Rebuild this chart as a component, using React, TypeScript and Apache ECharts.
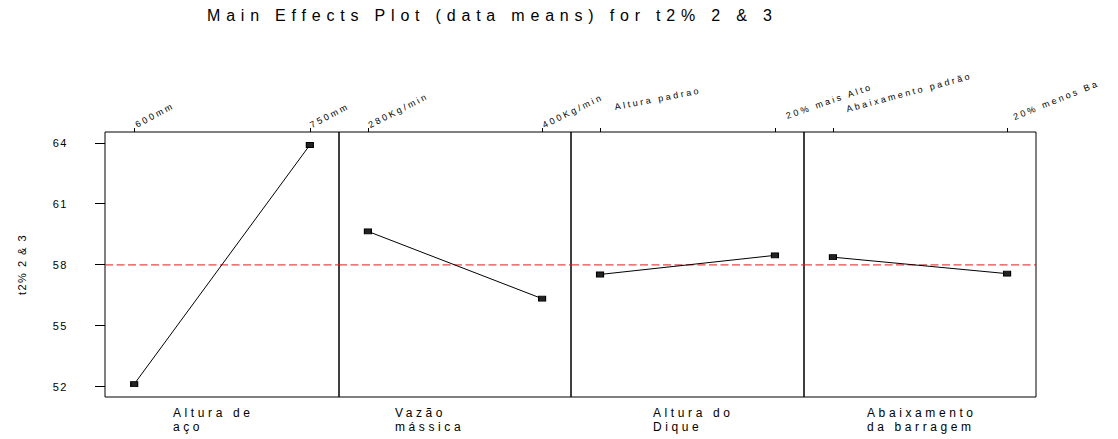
import React, { useEffect, useRef } from "react";
import * as echarts from "echarts";

// ---------- data ----------
const titleText = "Main Effects Plot (data means) for t2% 2 & 3";
const yAxisName = "t2% 2 & 3";
const factorNames = ["Altura de\naço", "Vazão\nmássica", "Altura do\nDique", "Abaixamento\nda barragem"];
const levelLabels = [
  ["600mm", "750mm"],
  ["280Kg/min", "400Kg/min"],
  ["Altura padrao", "20% mais Alto"],
  ["Abaixamento padrão", "20% menos Ba"],
];
const meanValues = [
  [52.12, 63.89],
  [59.64, 56.33],
  [57.52, 58.46],
  [58.37, 57.56],
];
const grandMean = 57.99;
const yTicks = [52, 55, 58, 61, 64];
const levelPositions = [0, 1];

// ---------- layout ----------
const panelLefts = [105, 339, 571, 804];
const panelWidths = [234, 232, 233, 232];
const gridTop = 132;
const gridHeight = 265;
const X_MIN = -0.166;
const X_MAX = 1.166;
// per label: [rotate, margin, paddingLeft]
const labelLayout = [
  [[28, 6, 2], [28, 6, 1]],
  [[27, 6, 1], [26, 6, 1]],
  [[11, 22, 15], [19, 12, 12]],
  [[15, 19, 14], [22, 12, 7]],
];
const bottomLabelLefts = [173, 395, 653, 867];
const FONT = "'Liberation Sans', Arial, sans-serif";

export default function App() {
  const ref = useRef<HTMLDivElement>(null);

  useEffect(() => {
    const el = ref.current;
    if (!el) return;
    const chart = echarts.init(el, null, { renderer: "svg" });

    const grids = panelLefts.map((l, i) => ({
      left: l,
      top: gridTop,
      width: panelWidths[i],
      height: gridHeight,
      show: true,
      borderColor: "#000",
      borderWidth: 1,
      backgroundColor: "transparent",
    }));

    const xAxes: any[] = [];
    panelLefts.forEach((_, i) => {
      levelPositions.forEach((pos, k) => {
        const [rot, margin, pad] = labelLayout[i][k];
        xAxes.push({
          type: "value",
          gridIndex: i,
          position: "top",
          min: X_MIN,
          max: X_MAX,
          axisLine: { show: false, onZero: false },
          splitLine: { show: false },
          axisTick: { show: true, length: 4, customValues: [pos], lineStyle: { color: "#000" } },
          axisLabel: {
            show: true,
            customValues: [pos],
            rotate: -rot,
            align: "left",
            verticalAlign: "middle",
            margin,
            padding: [0, 0, 0, pad],
            fontSize: 9,
            fontFamily: FONT,
            color: "#000",
            formatter: () => levelLabels[i][k],
          },
        });
      });
    });

    const yAxes = panelLefts.map((_, i) => ({
      type: "value",
      gridIndex: i,
      position: "left",
      min: 51.49,
      max: 64.53,
      show: i === 0,
      name: i === 0 ? yAxisName : "",
      nameLocation: "middle",
      nameGap: 78,
      nameRotate: 90,
      nameTextStyle: { fontSize: 11, fontFamily: FONT, color: "#000" },
      axisLine: { show: false, onZero: false },
      splitLine: { show: false },
      axisTick: { show: i === 0, length: 10, customValues: yTicks, lineStyle: { color: "#000" } },
      axisLabel: {
        show: i === 0,
        customValues: yTicks,
        margin: 37,
        fontSize: 11,
        fontFamily: FONT,
        color: "#000",
      },
    }));

    const meanSeries = panelLefts.map((_, i) => ({
      type: "line",
      xAxisIndex: i * 2,
      yAxisIndex: i,
      data: [
        [X_MIN, grandMean],
        [X_MAX, grandMean],
      ],
      symbol: "none",
      silent: true,
      z: 1,
      lineStyle: { color: "#ff1010", type: [8, 3.5], width: 1 },
    }));

    const effectSeries = meanValues.map((vals, i) => ({
      type: "line",
      xAxisIndex: i * 2,
      yAxisIndex: i,
      data: vals.map((v, k) => [levelPositions[k], v]),
      symbol: "rect",
      symbolSize: [7, 5],
      silent: true,
      z: 3,
      itemStyle: { color: "#222", borderColor: "#000", borderWidth: 1 },
      lineStyle: { color: "#000", width: 1 },
    }));

    chart.setOption({
      animation: false,
      backgroundColor: "#fff",
      title: {
        text: titleText,
        left: 202,
        top: 2,
        textStyle: { fontSize: 16, fontWeight: "normal", fontFamily: FONT, color: "#000" },
      },
      grid: grids,
      xAxis: xAxes,
      yAxis: yAxes,
      series: [...meanSeries, ...effectSeries],
      graphic: factorNames.map((name, i) => ({
        type: "text",
        left: bottomLabelLefts[i],
        top: 406,
        silent: true,
        style: { text: name, fontSize: 12, fontFamily: FONT, fill: "#000", lineHeight: 14 },
      })),
    });

    const applySpacing = () => {
      el.querySelectorAll("text").forEach((t) => {
        const fs = parseFloat(getComputedStyle(t).fontSize);
        let ls = 2.6;
        if (fs >= 15) ls = 5.8;
        else if (fs >= 11.5) ls = 3.6;
        else if (fs >= 10.5) ls = 1.5;
        t.setAttribute("letter-spacing", String(ls));
      });
    };
    applySpacing();
    chart.on("finished", applySpacing);

    return () => {
      chart.dispose();
    };
  }, []);

  return (
    <div
      ref={ref}
      style={{ position: "absolute", left: 0, top: 0, width: 1118, height: 439, background: "#fff" }}
    />
  );
}
